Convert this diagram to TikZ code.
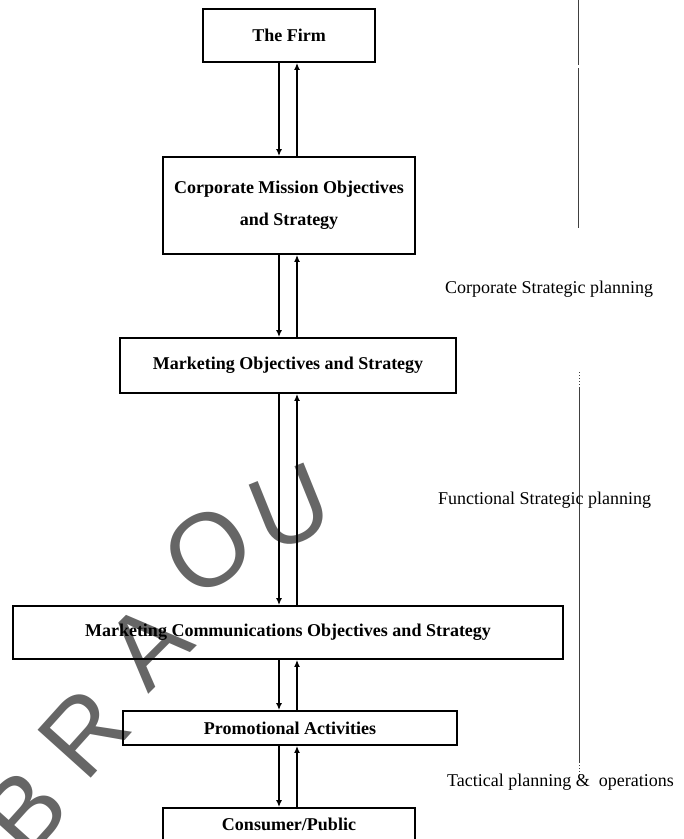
\documentclass[tikz,border=0pt]{standalone}
\usepackage{fontspec}
\setmainfont{Liberation Serif}
\newfontfamily\wmfont{Liberation Sans}
\usetikzlibrary{arrows.meta}
\begin{document}
\begin{tikzpicture}[x=1pt,y=-1pt,
  boxnode/.style={draw, line width=1.8pt, inner sep=0pt, align=center,
    font=\fontsize{18}{32}\selectfont\bfseries},
  sidelabel/.style={anchor=west, inner sep=0pt, font=\fontsize{18}{22}\selectfont},
  dnarrow/.style={line width=1.6pt, -{Latex[length=7pt,width=6pt]}},
  uparrow/.style={line width=1.6pt, -{Latex[length=7pt,width=6pt]}},
  sideline/.style={line width=1pt, black!75},
  sidedots/.style={line width=1pt, black!75, dotted},
  wm/.style={inner sep=0pt, text=black, opacity=0.6, font=\wmfont\fontsize{104}{104}\selectfont}]
\useasboundingbox (0,0) rectangle (684,839);
\clip (0,0) rectangle (684,839);

% boxes
\node[boxnode, minimum width=172, minimum height=53] (firm) at (289,35.5) {The Firm};
\node[boxnode, minimum width=252, minimum height=97] (corp) at (289,205.5) {Corporate Mission Objectives\\and Strategy};
\node[boxnode, minimum width=336, minimum height=55] (mkt) at (288,365.5) {Marketing Objectives and Strategy};
\node[boxnode, minimum width=550, minimum height=53] (mcm) at (288,632.5) {Marketing Communications Objectives and Strategy};
\node[boxnode, minimum width=334, minimum height=34] (promo) at (290,728) {Promotional Activities};
\node[boxnode, minimum width=252, minimum height=32] (cons) at (289,824) {Consumer/Public};

% arrow columns
\coordinate (L) at (279,0);
\coordinate (R) at (297,0);
\draw[dnarrow] (firm.south -| L) -- (corp.north -| L);
\draw[uparrow] (corp.north -| R) -- (firm.south -| R);
\draw[dnarrow] (corp.south -| L) -- (mkt.north -| L);
\draw[uparrow] (mkt.north -| R) -- (corp.south -| R);
\draw[dnarrow] (mkt.south -| L) -- (mcm.north -| L);
\draw[uparrow] (mcm.north -| R) -- (mkt.south -| R);
\draw[dnarrow] (mcm.south -| L) -- (promo.north -| L);
\draw[uparrow] (promo.north -| R) -- (mcm.south -| R);
\draw[dnarrow] (promo.south -| L) -- (cons.north -| L);
\draw[uparrow] (cons.north -| R) -- (promo.south -| R);

% side divider lines
\coordinate (s1a) at (578,0);
\coordinate (s1b) at (578,65);
\coordinate (s1c) at (578,68);
\coordinate (s1d) at (578,228);
\draw[sideline] (s1a) -- (s1b);
\draw[sideline] (s1c) -- (s1d);
\coordinate (s2t) at (579,372);
\coordinate (s2a) at (579,387);
\coordinate (s2b) at (579,762);
\coordinate (s2e) at (579,776);
\draw[sidedots] (s2t) -- (s2a);
\draw[sideline] (s2a) -- (s2b);
\draw[sidedots] (s2b) -- (s2e);

% side labels
\node[sidelabel] (lcorp) at (445,289) {Corporate Strategic planning};
\node[sidelabel] (lfunc) at (438,500) {Functional Strategic planning};
\node[sidelabel] (ltact) at (447,782) {Tactical planning \&~~operations};

% watermark
\node[wm, rotate=48] (wB) at (24,812) {B};
\node[wm, rotate=48] (wR) at (84,733) {R};
\node[wm, rotate=45] (wA) at (148,645) {A};
\node[wm, rotate=35] (wO) at (208,550) {O};
\node[wm, rotate=22] (wU) at (290,508) {U};
\end{tikzpicture}
\end{document}
